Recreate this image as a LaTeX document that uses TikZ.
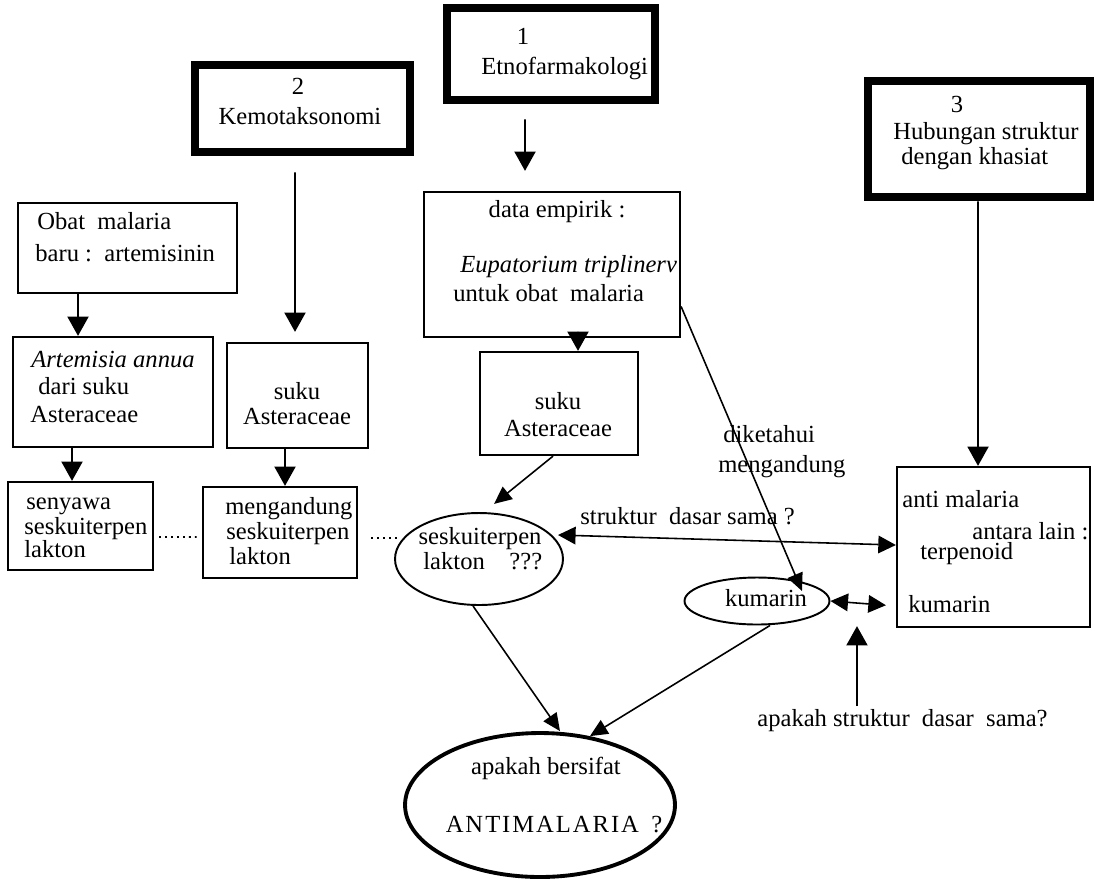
\documentclass[tikz,border=0pt]{standalone}
\usepackage{fontspec}
\setmainfont{Liberation Serif}
\usetikzlibrary{arrows.meta,shapes.geometric}
\begin{document}
\begin{tikzpicture}[x=0.02cm,y=-0.02cm,
  font=\fontsize{14}{16}\selectfont,
  box/.style={draw,line width=1.3pt,rectangle,inner sep=0pt},
  bigbox/.style={draw,line width=5pt,rectangle,inner sep=0pt},
  oval/.style={draw,line width=1.1pt,ellipse,inner sep=0pt},
  txt/.style={inner sep=0pt,anchor=mid west},
  ctxt/.style={inner sep=0pt,anchor=mid},
  arr/.style={line width=1pt,-{Triangle[width=12pt,length=11pt]}},
  sarr/.style={line width=0.9pt,-{Triangle[width=9pt,length=10pt]}},
  darr/.style={line width=0.9pt,{Triangle[width=10pt,length=10pt]}-{Triangle[width=10pt,length=10pt]}},
  dots/.style={line width=1.1pt,dash pattern=on 1pt off 2.4pt}]
\useasboundingbox (0,0) rectangle (1095,887);
% boxes
\node[bigbox,minimum width=4.16cm,minimum height=1.84cm] (b1) at (551,54) {};
\node[bigbox,minimum width=4.3cm,minimum height=1.74cm] (b2) at (302.5,108.5) {};
\node[bigbox,minimum width=4.44cm,minimum height=2.32cm] (b3) at (979,139) {};
\node[box,minimum width=4.38cm,minimum height=1.8cm] (ob) at (127.5,248) {};
\node[box,minimum width=4.0cm,minimum height=2.2cm] (ar) at (113,392) {};
\node[box,minimum width=2.82cm,minimum height=2.1cm] (s2) at (297.5,395.5) {};
\node[box,minimum width=2.9cm,minimum height=1.76cm] (sy) at (80.5,526) {};
\node[box,minimum width=3.08cm,minimum height=1.82cm] (mg) at (280,532.5) {};
\node[box,minimum width=5.12cm,minimum height=2.9cm] (de) at (552,264.5) {};
\node[box,minimum width=3.16cm,minimum height=2.06cm] (s3) at (559,403.5) {};
\node[box,minimum width=3.86cm,minimum height=3.2cm] (am) at (993.5,547) {};
\node[oval,minimum width=3.36cm,minimum height=1.84cm] (sk) at (479,559) {};
\node[oval,minimum width=2.9cm,minimum height=0.94cm] (km) at (757,601) {};
\node[oval,line width=2.2pt,minimum width=5.4cm,minimum height=2.88cm] (ap) at (540,805) {};
% texts
\node[ctxt] (t1a) at (523,40) {1};
\node[txt] (t1b) at (481,70) {Etnofarmakologi};
\node[ctxt] (t2a) at (298,90) {2};
\node[ctxt] (t2b) at (300,120) {Kemotaksonomi};
\node[ctxt] (t3a) at (957,108) {3};
\node[txt] (t3b) at (893,135) {Hubungan struktur};
\node[txt] (t3c) at (901,160) {dengan khasiat};
\node[txt] (tob1) at (37,225) {Obat\enspace malaria};
\node[txt] (tob2) at (35,257) {baru :\enspace artemisinin};
\node[txt] (tar1) at (31,363) {\textit{Artemisia annua}};
\node[txt] (tar2) at (38,390) {dari suku};
\node[txt] (tar3) at (30,418) {Asteraceae};
\node[ctxt] (ts21) at (297,395) {suku};
\node[ctxt] (ts22) at (297,420) {Asteraceae};
\node[txt] (tsy1) at (26,505) {senyawa};
\node[txt] (tsy2) at (24,530) {seskuiterpen};
\node[txt] (tsy3) at (24,553) {lakton};
\node[txt] (tmg1) at (225,510) {mengandung};
\node[txt] (tmg2) at (226,535) {seskuiterpen};
\node[txt] (tmg3) at (229,560) {lakton};
\node[ctxt] (tde1) at (557,213) {data empirik :};
\node[txt] (tde2) at (460,268) {\textit{Eupatorium triplinerv}};
\node[txt] (tde3) at (453,297) {untuk obat\enspace malaria};
\node[ctxt] (ts31) at (558,405) {suku};
\node[ctxt] (ts32) at (558,432) {Asteraceae};
\node[ctxt] (tsk1) at (480,540) {seskuiterpen};
\node[txt] (tsk2) at (423,565) {lakton\quad ???};
\node[ctxt] (tkm) at (766,602) {kumarin};
\node[txt] (tam1) at (902,503) {anti malaria};
\node[txt] (tam2) at (972,535) {antara lain :};
\node[txt] (tam3) at (920,555) {terpenoid};
\node[txt] (tam4) at (908,608) {kumarin};
\node[txt] (tdk1) at (723,438) {diketahui};
\node[txt] (tdk2) at (718,468) {mengandung};
\node[txt] (tst) at (580,520) {struktur\enspace dasar sama ?};
\node[txt] (tap) at (757,722) {apakah struktur\enspace dasar\enspace sama?};
\node[ctxt] (tbig1) at (546,770) {apakah bersifat};
\node[ctxt] (tbig2) at (554,828) {\addfontfeature{LetterSpace=8}ANTIMALARIA\enspace ?};
% connectors
\draw[arr,shorten <=0.3cm,shorten >=0.4cm] ([xshift=-0.52cm]b1.south) -- ([xshift=-0.54cm]de.north);
\draw[arr,shorten <=0.32cm,shorten >=0.2cm] ([xshift=-0.15cm]b2.south) -- ([xshift=-0.05cm]s2.north);
\draw[arr] ([xshift=-0.99cm]ob.south) -- ([xshift=-0.7cm]ar.north);
\draw[arr] ([xshift=-0.82cm]ar.south) -- ([xshift=-0.17cm]sy.north);
\draw[arr] ([xshift=-0.25cm]s2.south) -- ([xshift=0.1cm]mg.north);
\draw[arr] ([xshift=0.52cm]de.south) -- ([xshift=0.38cm]s3.north);
\draw[arr] ([xshift=-0.02cm]b3.south) -- ([xshift=-0.31cm]am.north);
\draw[sarr,shorten >=0.26cm] ([xshift=-0.12cm]s3.south) -- ([xshift=0.1cm]sk.north);
\draw[sarr] ([yshift=-0.84cm]de.east) -- ([xshift=0.9cm,yshift=0.2cm]km.center);
\draw[darr] ([xshift=1.58cm,yshift=0.48cm]sk.center) -- ([yshift=0.04cm]am.west);
\draw[darr,shorten >=0.2cm] (km.east) -- ([yshift=-0.1cm]am.west |- km.east);
\draw[arr,shorten <=0.05cm] ([xshift=2cm]tap.north west) -- ([xshift=2cm,yshift=1.65cm]tap.north west);
\draw[sarr] ([xshift=-0.12cm]sk.south) -- ([xshift=0.4cm]ap.north);
\draw[sarr] ([xshift=0.26cm]km.south) -- ([xshift=1.0cm,yshift=-0.1cm]ap.north);
\draw[dots,shorten <=0.1cm,shorten >=0.06cm] ([yshift=-0.22cm]sy.east) -- ([yshift=-0.09cm]mg.west);
\draw[dots,shorten <=0.26cm] ([yshift=-0.11cm]mg.east) -- ([xshift=0.06cm,yshift=0.42cm]sk.west);
\end{tikzpicture}
\end{document}
